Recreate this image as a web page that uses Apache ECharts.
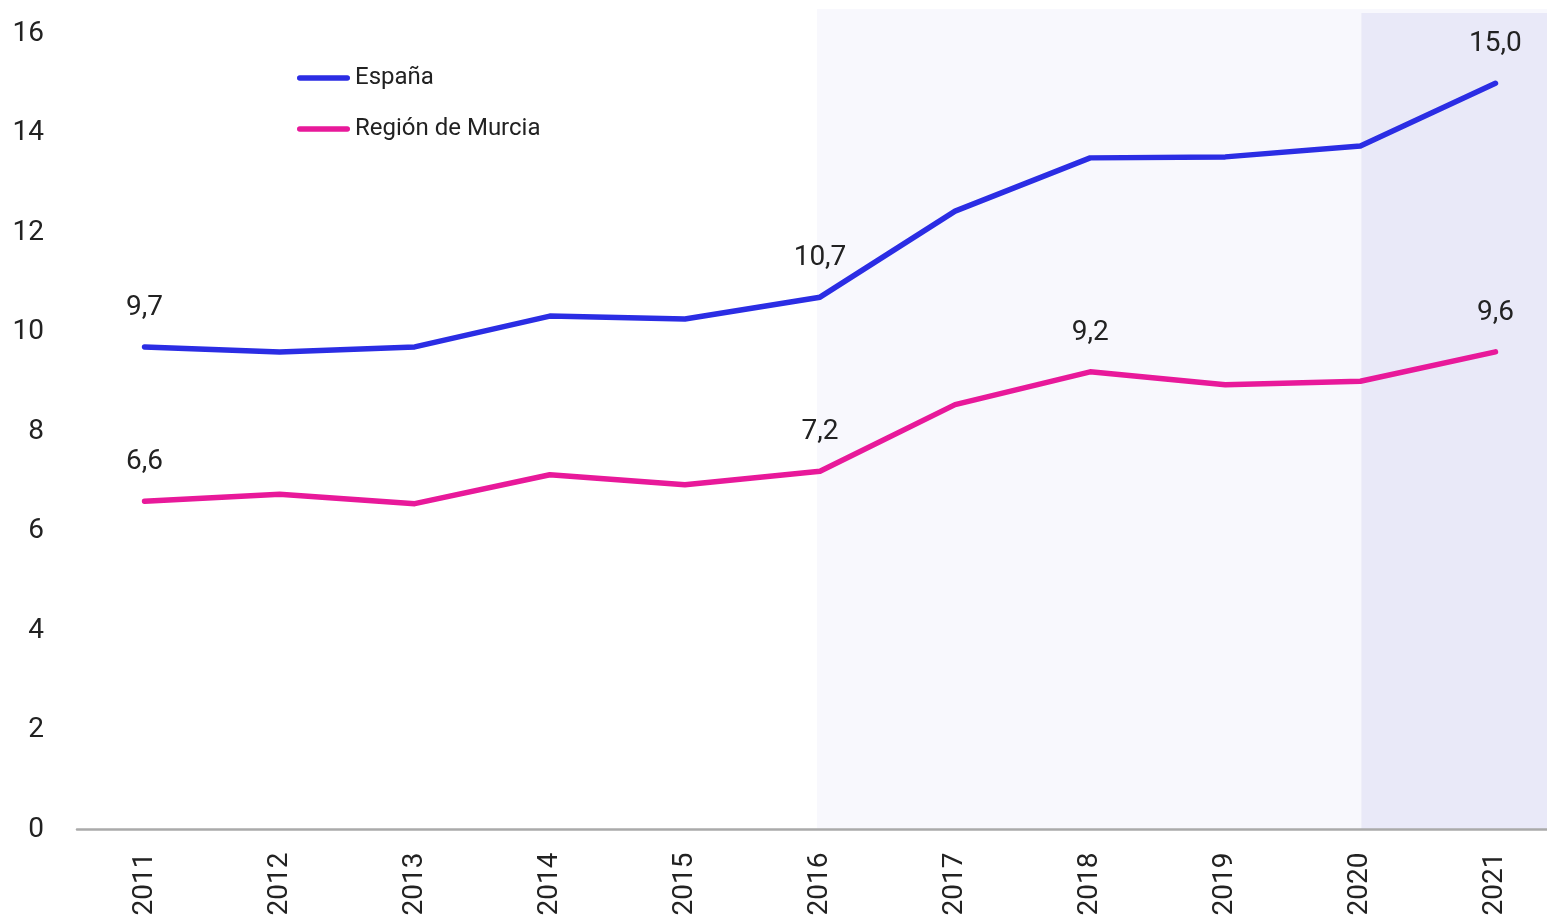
<!DOCTYPE html>
<html>
<head>
<meta charset="utf-8">
<script src="https://cdn.jsdelivr.net/npm/echarts@6/dist/echarts.min.js"></script>
<style>
  html, body { margin: 0; padding: 0; background: #ffffff; }
  #chart { width: 1547px; height: 915px; }
</style>
</head>
<body>
<div id="chart"></div>
<script>
// Years on the horizontal axis
const years = ['2011', '2012', '2013', '2014', '2015', '2016', '2017', '2018', '2019', '2020', '2021'];

// Series values
const espana = [9.7, 9.6, 9.7, 10.32, 10.26, 10.7, 12.43, 13.5, 13.52, 13.74, 15.0];
const murcia = [6.6, 6.74, 6.55, 7.13, 6.93, 7.2, 8.54, 9.2, 8.94, 9.01, 9.6];

// Years that carry a value label on each line
const espanaLabelYears = ['2011', '2016', '2021'];
const murciaLabelYears = ['2011', '2016', '2018', '2021'];

// Y axis ticks
const yTicks = [0, 2, 4, 6, 8, 10, 12, 14, 16];

// Shaded periods: first year of each band and the value at its top edge
const shadeStartYears = ['2016', '2020'];
const shadeTopValues = [16.49, 16.41];
const shadeColors = ['#f8f8fd', '#e9e9f8'];
const shadeNudge = [-3, 1];

const FONT = 'Roboto, "Noto Sans", sans-serif';
const TEXT = '#222222';
const BLUE = '#2b2de4';
const PINK = '#e8199a';

// Legend key: a thick bar with rounded ends
const LEGEND_ICON = 'path://M2.75,0 H50.25 A2.75,2.75 0 0 1 50.25,5.5 H2.75 A2.75,2.75 0 0 1 2.75,0 Z';

const chart = echarts.init(document.getElementById('chart'), null, { renderer: 'canvas' });

function valueLabel(labelYears) {
  return {
    show: true,
    position: 'top',
    distance: 25,
    fontSize: 28,
    fontFamily: FONT,
    color: TEXT,
    formatter: p => labelYears.includes(p.name) ? p.value.toFixed(1).replace('.', ',') : ''
  };
}

function lineSeries(name, values, color, labelYears) {
  return {
    name: name,
    type: 'line',
    data: values,
    symbol: 'circle',
    symbolSize: 0,
    showSymbol: true,
    z: 3,
    lineStyle: { color: color, width: 5.5, cap: 'round', join: 'round' },
    itemStyle: { color: color },
    label: valueLabel(labelYears)
  };
}

chart.setOption({
  animation: false,
  backgroundColor: '#ffffff',
  textStyle: { fontFamily: FONT },
  grid: {
    left: 77, width: 1486, top: 33.5, bottom: 85.5,
    containLabel: false,
    outerBoundsMode: 'none'
  },
  legend: {
    orient: 'vertical',
    left: 297,
    top: 66,
    padding: 0,
    itemWidth: 53,
    itemHeight: 5.5,
    itemGap: 27,
    textStyle: { fontSize: 24, color: TEXT, fontFamily: FONT },
    data: [
      { name: 'España', icon: LEGEND_ICON, itemStyle: { color: BLUE } },
      { name: 'Región de Murcia', icon: LEGEND_ICON, itemStyle: { color: PINK } }
    ]
  },
  xAxis: {
    type: 'category',
    data: years,
    boundaryGap: true,
    axisLine: { show: true, lineStyle: { color: '#aaaaaa', width: 2.5 } },
    axisTick: { show: false },
    splitLine: { show: false },
    axisLabel: {
      rotate: 90,
      margin: 23,
      fontSize: 28,
      fontFamily: FONT,
      color: TEXT,
      interval: 0
    }
  },
  yAxis: {
    type: 'value',
    min: yTicks[0],
    max: yTicks[yTicks.length - 1],
    interval: yTicks[1] - yTicks[0],
    axisLine: { show: false },
    axisTick: { show: false },
    splitLine: { show: false },
    axisLabel: { margin: 33, fontSize: 28, fontFamily: FONT, color: TEXT }
  },
  series: [
    lineSeries('España', espana, BLUE, espanaLabelYears),
    lineSeries('Región de Murcia', murcia, PINK, murciaLabelYears)
  ]
});

// Background bands for the shaded periods, placed from the axes' own scales
const baseY = chart.convertToPixel({ yAxisIndex: 0 }, 0);
const rightEdge = chart.getWidth();
chart.setOption({
  graphic: shadeStartYears.map((yr, i) => {
    const x0 = chart.convertToPixel({ xAxisIndex: 0 }, yr) + shadeNudge[i];
    const yTop = chart.convertToPixel({ yAxisIndex: 0 }, shadeTopValues[i]);
    return {
      type: 'rect',
      z: -10,
      silent: true,
      shape: { x: x0, y: yTop, width: rightEdge - x0, height: baseY - yTop },
      style: { fill: shadeColors[i] }
    };
  })
});
</script>
</body>
</html>
